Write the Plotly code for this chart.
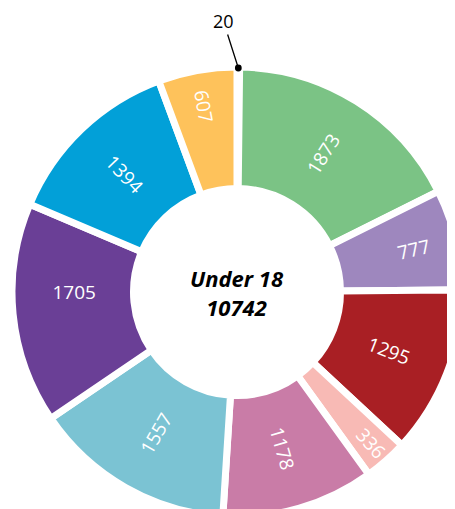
import math
import plotly.graph_objects as go

# Data
labels = ["Group 0", "Group 1", "Group 2", "Group 3", "Group 4",
          "Group 5", "Group 6", "Group 7", "Group 8", "Group 9"]
values = [20, 1873, 777, 1295, 336, 1178, 1557, 1705, 1394, 607]
colors = ["#A5A5A5", "#7BC385", "#9E87BE", "#A91F24", "#F8BAB5",
          "#C97CA7", "#7BC3D3", "#6A3F96", "#02A0D8", "#FEC25B"]
center_title = "Under 18"

total = sum(values)

W, H = 455, 509
# pie box in figure pixels: x 4..454, y 59..509 (from top)
dom_x = [4 / W, 454 / W]
dom_y = [0.0, 1 - 59 / H]

texts = [""] + [str(v) for v in values[1:]]

fig = go.Figure(go.Pie(
    labels=labels,
    values=values,
    text=texts,
    textinfo="text",
    textposition="inside",
    insidetextorientation="radial",
    insidetextfont=dict(color="white", size=19, family="Open Sans, Noto Sans, sans-serif"),
    marker=dict(colors=colors, line=dict(color="white", width=7)),
    hole=0.46,
    sort=False,
    direction="clockwise",
    rotation=0,
    domain=dict(x=dom_x, y=dom_y),
    showlegend=False,
    hoverinfo="label+value",
))

# Center label
fig.add_annotation(
    x=(dom_x[0] + dom_x[1]) / 2, y=(dom_y[0] + dom_y[1]) / 2,
    xref="paper", yref="paper",
    text=f"<b><i>{center_title}<br>{total}</i></b>",
    showarrow=False,
    font=dict(size=22, color="black", family="Open Sans, Noto Sans, sans-serif"),
)

# Leader label for the tiny first slice
cx_px = (dom_x[0] + dom_x[1]) / 2 * W
cy_px = (1 - (dom_y[0] + dom_y[1]) / 2) * H
R_px = min((dom_x[1] - dom_x[0]) * W, (dom_y[1] - dom_y[0]) * H) / 2
mid_ang = math.radians(values[0] / 2 / total * 360)
px = cx_px + R_px * math.sin(mid_ang)
py = cy_px - R_px * math.cos(mid_ang) + 1
fig.add_annotation(
    x=px / W, y=1 - py / H, xref="paper", yref="paper",
    text=str(values[0]), showarrow=True,
    ax=-15, ay=-47, arrowhead=6, arrowsize=1.3, arrowwidth=1.3, arrowcolor="black",
    font=dict(size=18, color="black", family="Open Sans, Noto Sans, sans-serif"),
)

fig.update_layout(
    width=W, height=H,
    margin=dict(l=0, r=0, t=0, b=0),
    paper_bgcolor="white", plot_bgcolor="white",
    uniformtext=dict(mode="show", minsize=19),
)

fig.write_html("out.html")
